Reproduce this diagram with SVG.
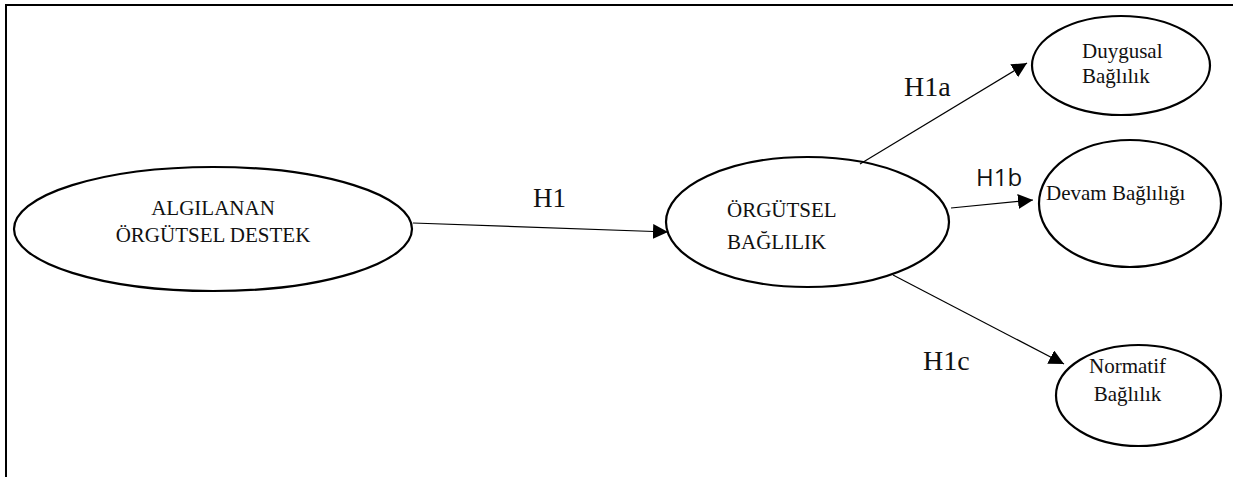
<svg xmlns="http://www.w3.org/2000/svg" width="1235" height="477" viewBox="0 0 1235 477">
<style>
.node ellipse{fill:#fff;stroke:#000;stroke-width:2.2}
.lbl{font-size:21px;fill:#111}
.h{font-size:28px;fill:#111}
.hs{font-size:24px;fill:#111}
.conn line{stroke:#000;stroke-width:1.2;fill:none}
</style>
<defs>
<marker id="arr" markerUnits="userSpaceOnUse" markerWidth="16" markerHeight="16" refX="15" refY="7.5" orient="auto">
<path d="M0,0 L15,7.5 L0,15 z" fill="#000"/>
</marker>
</defs>
<rect width="1235" height="477" fill="#fff"/>
<path d="M6,477 V5 H1233" fill="none" stroke="#000" stroke-width="2"/>
<g id="n-algilanan" class="node" font-family="Liberation Serif, DejaVu Serif, serif">
<ellipse cx="213" cy="229" rx="199" ry="62"/>
<text class="lbl" x="213" y="215" text-anchor="middle">ALGILANAN</text>
<text class="lbl" x="213" y="242" text-anchor="middle">ÖRGÜTSEL DESTEK</text>
</g>
<g id="n-orgutsel" class="node" font-family="Liberation Serif, DejaVu Serif, serif">
<ellipse cx="807.5" cy="222" rx="141.5" ry="65"/>
<text class="lbl" x="727" y="217">ÖRGÜTSEL</text>
<text class="lbl" x="727" y="249">BAĞLILIK</text>
</g>
<g id="n-duygusal" class="node" font-family="Liberation Serif, DejaVu Serif, serif">
<ellipse cx="1121" cy="65.5" rx="89" ry="49.5"/>
<text class="lbl" x="1082" y="58">Duygusal</text>
<text class="lbl" x="1082" y="83">Bağlılık</text>
</g>
<g id="n-devam" class="node" font-family="Liberation Serif, DejaVu Serif, serif">
<ellipse cx="1130" cy="203.5" rx="91" ry="63.5"/>
<text class="lbl" x="1046" y="200">Devam Bağlılığı</text>
</g>
<g id="n-normatif" class="node" font-family="Liberation Serif, DejaVu Serif, serif">
<ellipse cx="1138.5" cy="395.5" rx="82.5" ry="50.5"/>
<text class="lbl" x="1127.5" y="373" text-anchor="middle">Normatif</text>
<text class="lbl" x="1127.5" y="401" text-anchor="middle">Bağlılık</text>
</g>
<g id="connectors" class="conn">
<line x1="413" y1="223" x2="668" y2="232" marker-end="url(#arr)"/>
<line x1="860" y1="164" x2="1027" y2="63" marker-end="url(#arr)"/>
<line x1="951" y1="208" x2="1033" y2="200" marker-end="url(#arr)"/>
<line x1="893" y1="275" x2="1064" y2="364" marker-end="url(#arr)"/>
</g>
<g id="edge-labels" font-family="Liberation Serif, DejaVu Serif, serif">
<text class="h" x="533" y="207" style="font-size:27px">H1</text>
<text class="h" x="904" y="96">H1a</text>
<text class="hs" x="976" y="186" font-family="Open Sans, Liberation Sans, sans-serif">H1b</text>
<text class="h" x="923" y="370">H1c</text>
</g>
</svg>
